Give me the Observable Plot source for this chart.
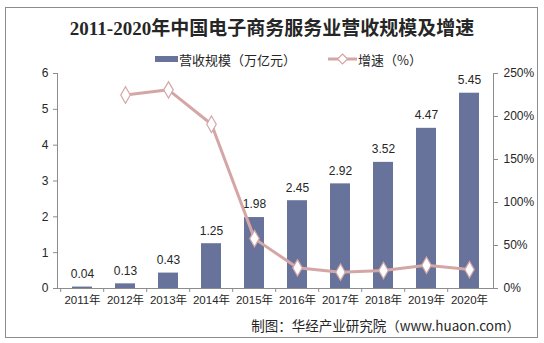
<!DOCTYPE html>
<html><head><meta charset="utf-8">
<script src="https://cdn.jsdelivr.net/npm/d3@7"></script>
<script src="https://cdn.jsdelivr.net/npm/@observablehq/plot@0.6"></script>
<style>
body{margin:0;background:#fff;}
#wrap{position:relative;width:544px;height:343px;overflow:hidden;font-family:"Liberation Sans","Noto Sans CJK SC",sans-serif;color:#262626;}
#border{position:absolute;left:5px;top:7px;width:531px;height:329px;border:1px solid #8c8c8c;pointer-events:none;}
#title{position:absolute;left:0;width:544px;top:17px;text-align:center;font-family:"Liberation Serif","Noto Sans CJK SC",serif;font-weight:bold;font-size:19px;line-height:24px;}
#legend{position:absolute;top:50px;left:155px;height:18px;display:flex;align-items:center;font-size:13px;font-family:"Noto Sans CJK SC",sans-serif;}
#caption{position:absolute;right:24px;top:316px;font-size:13.5px;font-family:"Noto Sans CJK SC","Liberation Sans",sans-serif;line-height:18px;}
#chart{position:absolute;left:0;top:0;}
</style></head>
<body><div id="wrap">
<div id="chart"></div>
<div id="border"></div>
<div id="title">2011-2020年中国电子商务服务业营收规模及增速</div>
<div id="legend">
  <svg width="24" height="10"><rect x="0" y="2" width="23" height="6" fill="#67739b"/></svg>
  <span>营收规模（万亿元）</span>
  <svg width="30" height="12" style="margin-left:32px"><line x1="0" y1="6" x2="29" y2="6" stroke="#d5a6a6" stroke-width="3"/><path d="M14.5 1 L19.5 6 L14.5 11 L9.5 6 Z" fill="#fff" stroke="#d5a6a6" stroke-width="1.2"/></svg>
  <span>增速（%）</span>
</div>
<div id="caption">制图：华经产业研究院（www.huaon.com）</div>
</div>
<script>
const years = ["2011年","2012年","2013年","2014年","2015年","2016年","2017年","2018年","2019年","2020年"];
const revenue = [0.04,0.13,0.43,1.25,1.98,2.45,2.92,3.52,4.47,5.45];
const growth = [null,225,231,191,58,24,19,21,27,22];
const leftTicks = [0,1,2,3,4,5,6];
const rightTicks = [0,50,100,150,200,250];
const rightMax = 250, leftMax = 6;

const data = years.map((y,i)=>({year:y, rev:revenue[i], g:growth[i]}));
const gdata = data.filter(d=>d.g!=null);
const toLeft = v => v/rightMax*leftMax;
const barColor = "#67739b", lineColor = "#d5a6a6", axisColor = "#8c8c8c";

const chart = Plot.plot({
  width:544, height:343,
  marginLeft:57, marginRight:51, marginTop:73, marginBottom:55,
  style:{background:"transparent", fontFamily:"'Liberation Sans', 'Noto Sans CJK SC', sans-serif", fontSize:"11.5px", color:"#262626"},
  x:{domain:years, paddingInner:0.54, paddingOuter:0.27, axis:null},
  y:{domain:[0,leftMax], axis:null},
  marks:[
    Plot.barY(data,{x:"year", y:"rev", fill:barColor}),
    Plot.text(data,{x:"year", y:"rev", text:d=>d.rev.toFixed(2), dy:-13, fontSize:12, fill:"#262626"}),
    Plot.lineY(gdata,{x:"year", y:d=>toLeft(d.g), stroke:lineColor, strokeWidth:3}),
    Plot.dot(gdata,{x:"year", y:d=>toLeft(d.g), symbol:"diamond", r:5, fill:"white", stroke:lineColor, strokeWidth:1.2}),
    Plot.ruleY([0],{stroke:axisColor}),
    Plot.frame({anchor:"left", stroke:axisColor}),
    Plot.frame({anchor:"right", stroke:axisColor}),
    Plot.ruleX(years,{x:d=>d, y1:0, y2:-0.11, dx:-21.8, stroke:axisColor}),
    Plot.axisY({anchor:"left", ticks:leftTicks, tickFormat:d=>String(d), tickSize:4, tickPadding:5, label:null, stroke:axisColor, fontSize:12}),
    Plot.axisY({anchor:"right", ticks:rightTicks.map(toLeft), tickFormat:v=>Math.round(v/leftMax*rightMax)+"%", tickSize:4, tickPadding:6, label:null, stroke:axisColor, fontSize:12}),
    Plot.axisX({tickSize:0, tickPadding:7, label:null, fontSize:11.5})
  ]
});
document.getElementById("chart").appendChild(chart);
</script>
</body></html>
